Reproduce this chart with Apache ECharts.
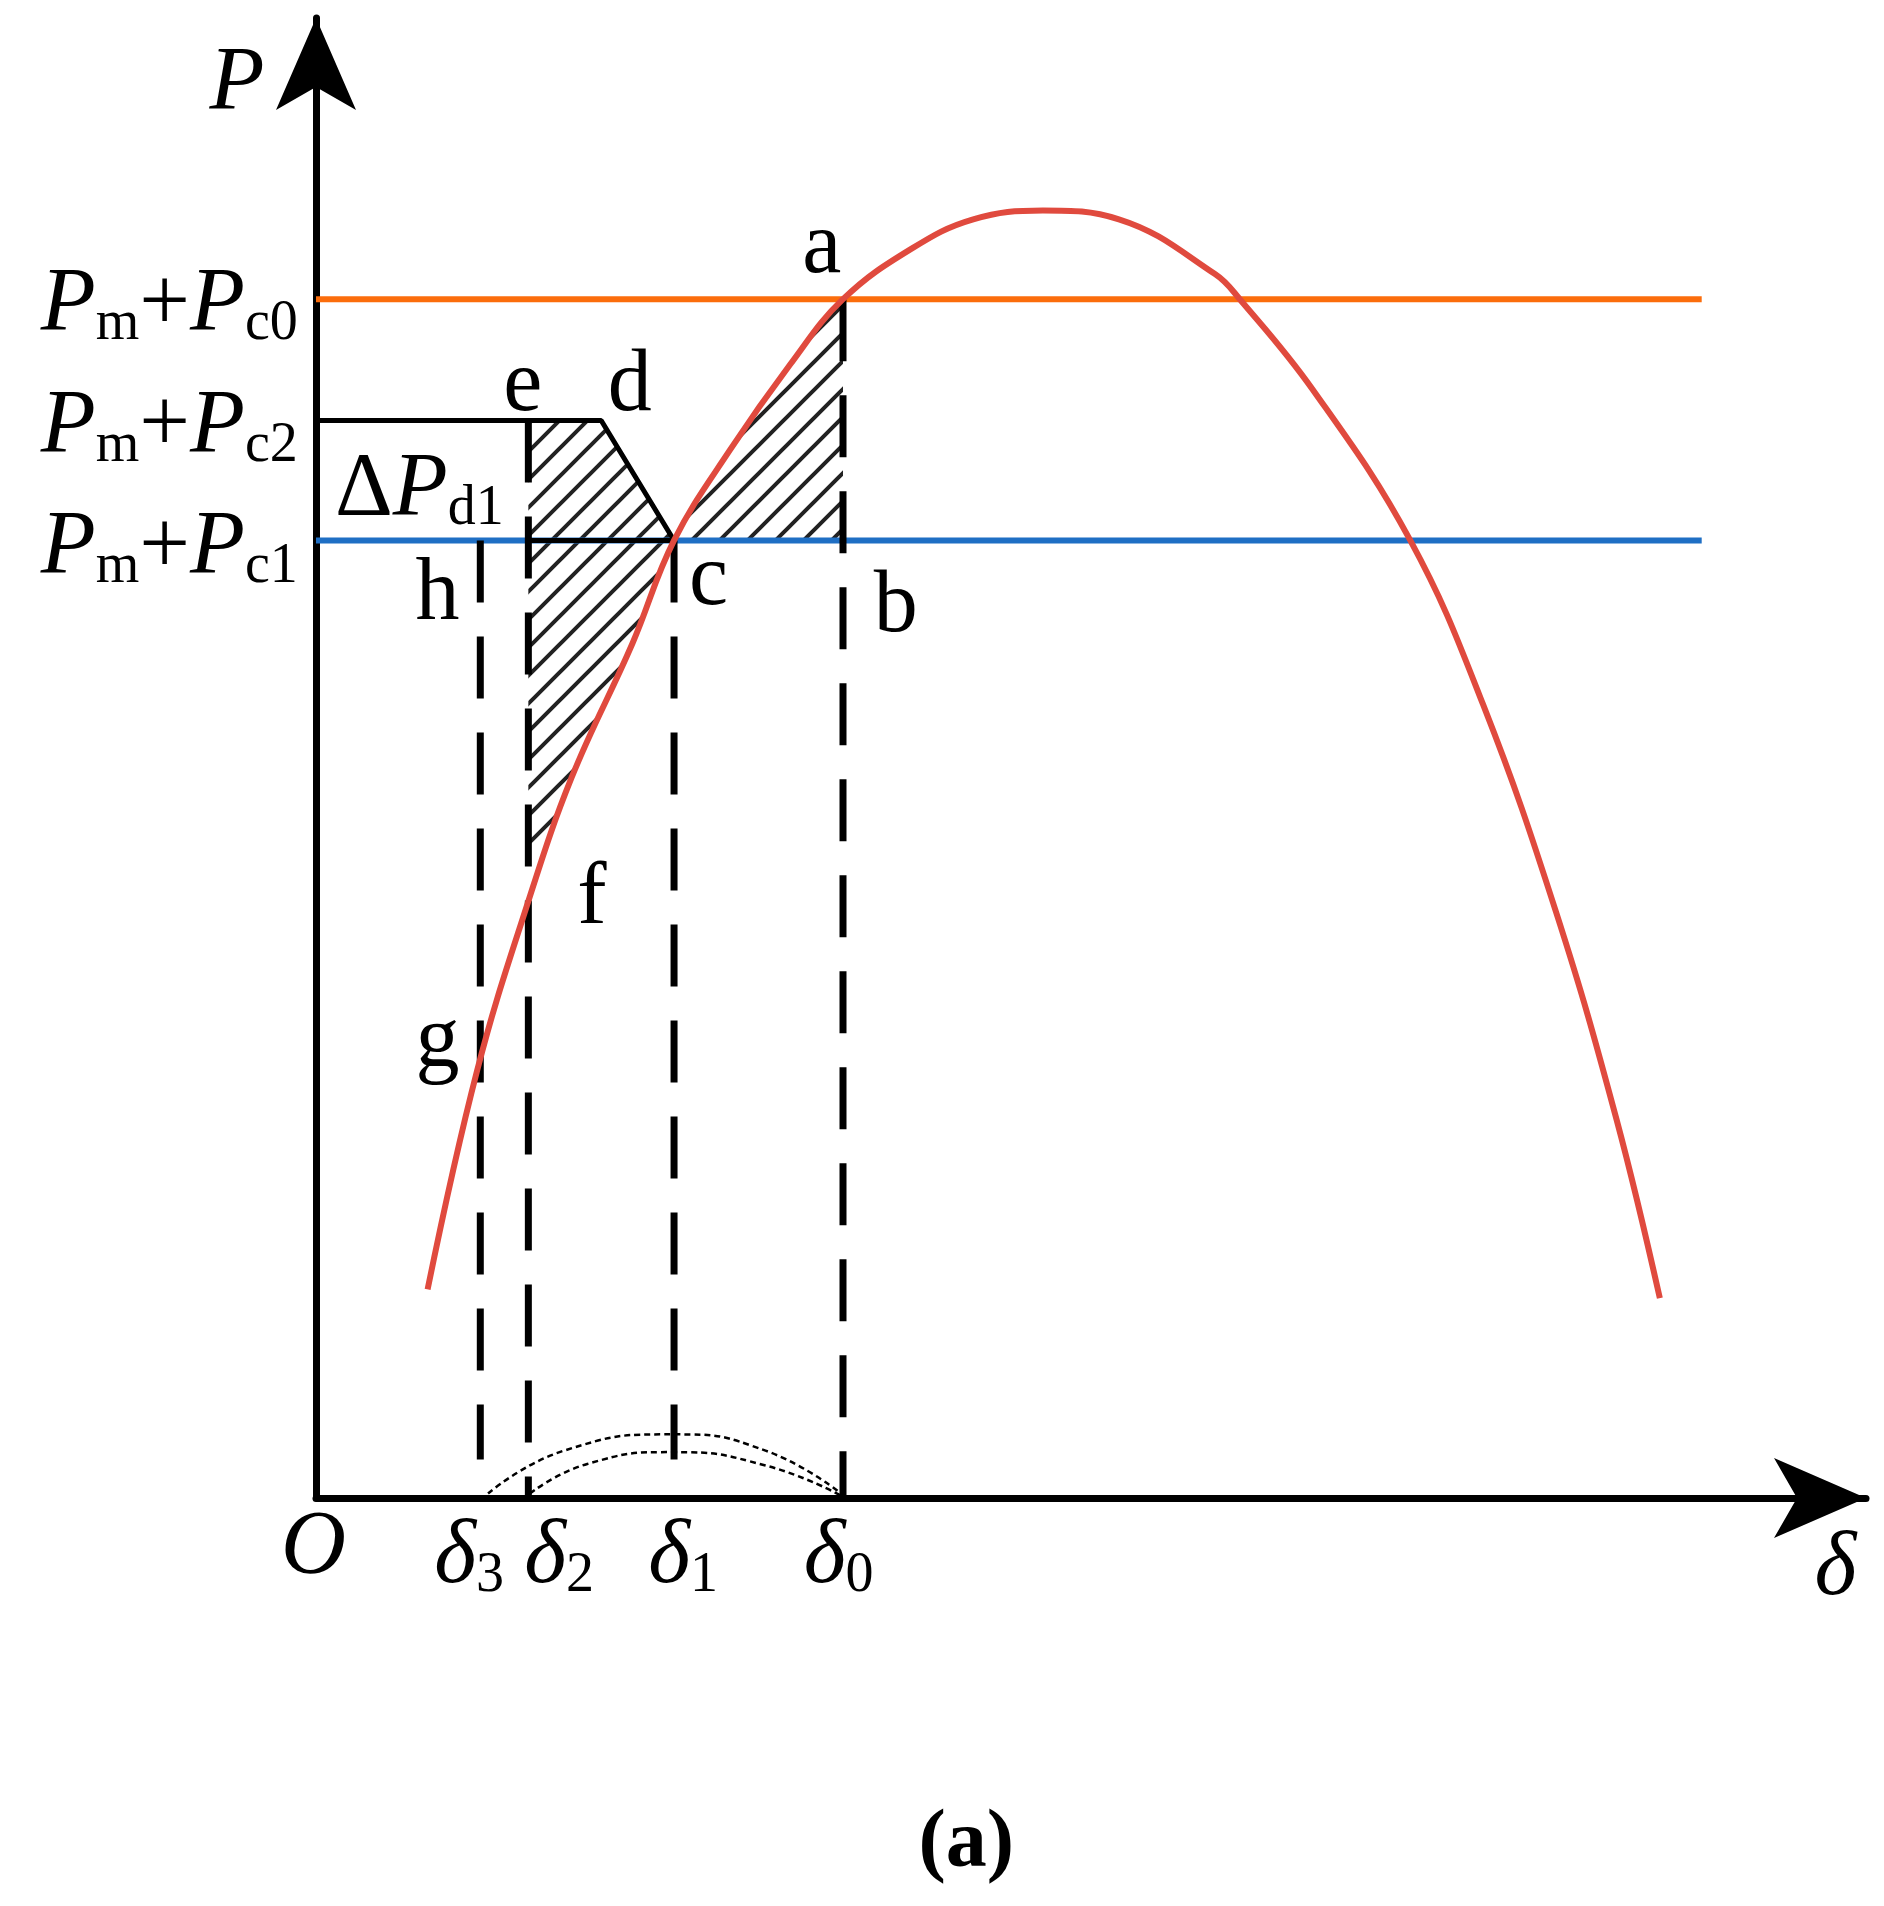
<!DOCTYPE html>
<html>
<head>
<meta charset="utf-8">
<script src="https://cdn.jsdelivr.net/npm/echarts@6/dist/echarts.min.js"></script>
<style>html,body{margin:0;background:#fff}#main{width:1884px;height:1906px}</style>
</head>
<body>
<div id="main"></div>
<script>
// power-angle curve (axis units 0..100)
const curveX = [7.2, 10.4, 13.6, 16.5, 20.4, 23.1, 26.7, 30.6, 34.0, 38.4, 42.4, 46.9, 51.8, 58.0, 59.6, 64.3, 70.6, 75.3, 80.0, 83.9, 86.7];
const curveY = [14.1, 28.9, 40.0, 48.7, 57.7, 64.7, 70.8, 76.6, 81.0, 84.4, 86.4, 87.0, 86.4, 82.7, 81.0, 74.9, 64.7, 53.6, 39.6, 25.6, 13.5];
const levelPc0 = 81.0;
const levelPc2 = 72.8;
const levelPc1 = 64.7;
const lineEnd = 89.4;
const deltaX = { d3: 10.6, d2: 13.7, d1: 23.1, d0: 34.0 };
const dX = 18.4; // point d
const arcOuter = [[11.1, 0.3], [16, 3.2], [23.1, 4.3], [29, 3.2], [34.0, 0.2]];
const arcInner = [[13.8, 0.3], [17.5, 2.3], [23.1, 3.1], [29, 2.2], [33.8, 0.2]];
const hatchRight = [[23.1, 64.7], [26.7, 70.8], [30.6, 76.6], [34.0, 81.0], [34.0, 64.7]];
const hatchLeft = [[13.7, 72.8], [18.4, 72.8], [23.1, 64.7], [20.4, 57.7], [16.5, 48.7], [14.6, 43.5], [13.7, 43.5]];

const chart = echarts.init(document.getElementById('main'));
const S = 1.2155; // picture scale for text placement

function pattern() {
  const c = document.createElement('canvas');
  c.width = 28; c.height = 28;
  const g = c.getContext('2d');
  g.strokeStyle = '#222'; g.lineWidth = 4;
  g.beginPath();
  g.moveTo(0, 28); g.lineTo(28, 0);
  g.moveTo(-8, 8); g.lineTo(8, -8);
  g.moveTo(20, 36); g.lineTo(36, 20);
  g.stroke();
  return { image: c, repeat: 'repeat' };
}
const hatchFill = pattern();

function polySeries(pts) {
  return {
    type: 'custom', z: 1, silent: true, data: [0],
    renderItem: (p, api) => ({
      type: 'polygon',
      shape: { points: pts.map(q => api.coord(q)) },
      style: { fill: hatchFill }
    })
  };
}
function line(data, color, width, type, z) {
  return { type: 'line', data: data, symbol: 'none', silent: true, z: z || 3,
    lineStyle: { color: color, width: width, type: type || 'solid', cap: 'butt' } };
}
function vdash(x, y0, y1) {
  return line([[x, y0], [x, y1]], '#000', 7, [62, 34], 4);
}

const serif = '"Liberation Serif", "DejaVu Serif", serif';
const rich = {
  i: { fontFamily: serif, fontStyle: 'italic', fontSize: 80, fill: '#000' },
  n: { fontFamily: serif, fontSize: 80, fill: '#000' },
  s: { fontFamily: serif, fontSize: 52, fill: '#000', padding: [32, 0, 0, 0] },
  I: { fontFamily: serif, fontStyle: 'italic', fontSize: 90, fill: '#000' },
  N: { fontFamily: serif, fontSize: 90, fill: '#000' },
  S: { fontFamily: serif, fontSize: 56, fill: '#000', padding: [36, 0, 0, 0] }
};
function txt(x, y, text, align, size, bold) {
  return { type: 'text', x: x * S, y: y * S, z: 10,
    style: { text: text, rich: rich, font: (bold ? 'bold ' : '') + (size || 82) + 'px ' + serif,
      fill: '#000', align: align || 'center', verticalAlign: 'middle' } };
}

const option = {
  animation: false,
  backgroundColor: '#fff',
  grid: { left: 316, top: 18, width: 1550, bottom: 408 },
  xAxis: { type: 'value', min: 0, max: 100, axisLabel: { show: false }, axisTick: { show: false }, splitLine: { show: false },
    axisLine: { lineStyle: { color: '#000', width: 7 }, symbol: ['none', 'arrow'], symbolSize: [60, 92] } },
  yAxis: { type: 'value', min: 0, max: 100, axisLabel: { show: false }, axisTick: { show: false }, splitLine: { show: false },
    axisLine: { lineStyle: { color: '#000', width: 7 }, symbol: ['none', 'arrow'], symbolSize: [60, 92] } },
  series: [
    polySeries(hatchRight),
    polySeries(hatchLeft),
    line([[0, levelPc0], [lineEnd, levelPc0]], '#fb6d0c', 6),
    line([[0, levelPc1], [lineEnd, levelPc1]], '#1f6fc4', 6),
    line([[0, levelPc2], [dX, levelPc2], [deltaX.d1, levelPc1]], '#000', 5, 'solid', 5),
    line([[deltaX.d2, levelPc1], [deltaX.d1, levelPc1]], '#000', 5, 'solid', 5),
    Object.assign(line(curveX.map((x, i) => [x, curveY[i]]), '#e04a3e', 6, 'solid', 6), { smooth: 0.4 }),
    vdash(deltaX.d3, levelPc1, 2.6),
    vdash(deltaX.d2, levelPc2, 0),
    vdash(deltaX.d1, levelPc1, 2.6),
    vdash(deltaX.d0, levelPc0, 0),
    Object.assign(line(arcOuter, '#000', 2.5, [6, 4]), { smooth: true }),
    Object.assign(line(arcInner, '#000', 2.5, [6, 4]), { smooth: true })
  ],
  graphic: [
    txt(195, 70, '{I|P}'),
    txt(1510, 1292, '{I|δ}'),
    txt(258, 1275, '{I|O}'),
    txt(386, 1282, '{I|δ}{S|3}'),
    txt(460, 1282, '{I|δ}{S|2}'),
    txt(562, 1282, '{I|δ}{S|1}'),
    txt(690, 1282, '{I|δ}{S|0}'),
    txt(245, 252, '{I|P}{S|m}{N|+}{I|P}{S|c0}', 'right'),
    txt(245, 352, '{I|P}{S|m}{N|+}{I|P}{S|c2}', 'right'),
    txt(245, 452, '{I|P}{S|m}{N|+}{I|P}{S|c1}', 'right'),
    txt(345, 404, '{N|Δ}{I|P}{S|d1}'),
    txt(676, 205, 'a', 'center', 88), txt(430, 318, 'e', 'center', 88), txt(518, 318, 'd', 'center', 88),
    txt(583, 478, 'c', 'center', 88), txt(737, 500, 'b', 'center', 88), txt(360, 490, 'h', 'center', 88),
    txt(487, 740, 'f', 'center', 88), txt(360, 858, 'g', 'center', 88),
    txt(795, 1518, '(a)', 'center', 82, true)
  ]
};
chart.setOption(option);
</script>
</body>
</html>
